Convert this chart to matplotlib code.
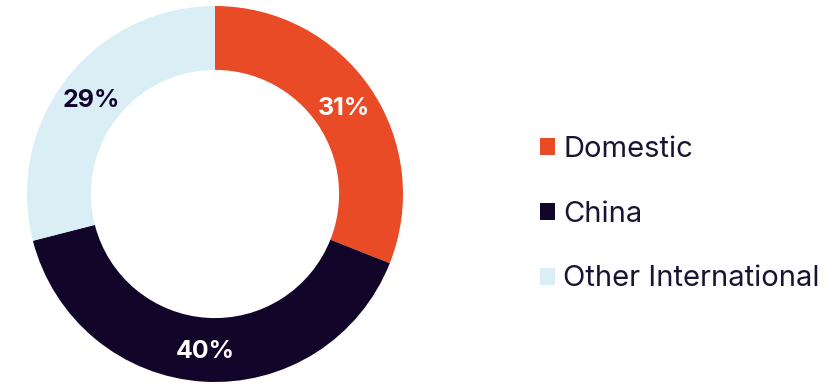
import numpy as np
import matplotlib.pyplot as plt
from matplotlib.patches import Patch

labels = ['Domestic', 'China', 'Other International']
shares = [31, 40, 29]
colors = ['#E84B25', '#12052A', '#DAEEF5']
text_colors = ['white', 'white', '#12052A']

plt.rcParams['font.family'] = ['Inter', 'DejaVu Sans']

fig = plt.figure(figsize=(8.36, 3.84), dpi=100)
ax = fig.add_axes([27 / 836, 2 / 384, 376 / 836, 376 / 384])

wedges, _ = ax.pie(shares, colors=colors, startangle=90, counterclock=False,
                   radius=1, wedgeprops=dict(width=0.34, linewidth=0))
ax.set_xlim(-1, 1)
ax.set_ylim(-1, 1)

for w, s, tc in zip(wedges, shares, text_colors):
    mid = np.deg2rad((w.theta1 + w.theta2) / 2)
    r = 0.83
    ax.text(r * np.cos(mid), r * np.sin(mid) - 0.01, f'{s}%', ha='center', va='center',
            fontsize=18, fontweight='bold', color=tc)

handles = [Patch(facecolor=c, edgecolor='none') for c in colors]
fig.legend(handles, labels, loc='center left', bbox_to_anchor=(540 / 836, 170 / 384),
           frameon=False, fontsize=21, handlelength=0.52, handleheight=0.52,
           handletextpad=0.28, labelspacing=1.3, borderpad=0, borderaxespad=0,
           labelcolor='#1A1433')

fig.savefig('out.png', dpi=100)
